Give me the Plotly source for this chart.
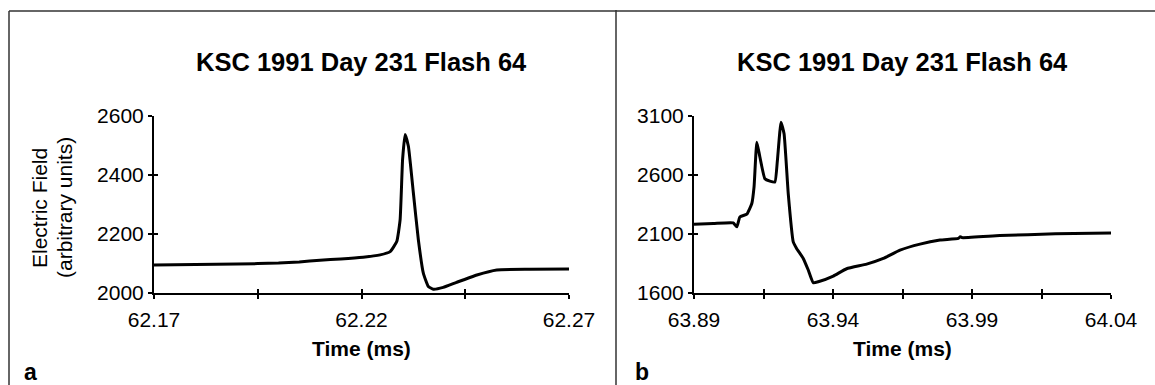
import plotly.graph_objects as go

# ---------------- data ----------------
left_time = [62.17, 62.18, 62.19, 62.20, 62.205, 62.21, 62.215, 62.2204, 62.2245, 62.2269,
             62.2285, 62.2293, 62.2299, 62.2305, 62.2313, 62.2325, 62.2337, 62.2349, 62.2361,
             62.2373, 62.2397, 62.2429, 62.2478, 62.2526, 62.2606, 62.27]
left_field = [2095, 2096, 2098, 2101, 2105, 2111, 2115, 2121, 2129, 2140,
              2174, 2247, 2451, 2536, 2496, 2338, 2180, 2067, 2022,
              2013, 2019, 2036, 2061, 2078, 2080, 2081]

right_time = [63.89, 63.897, 63.9041, 63.9054, 63.9065, 63.909, 63.9108, 63.9116, 63.9126,
              63.9137, 63.9155, 63.9173, 63.9191, 63.92, 63.9213, 63.9224, 63.9239, 63.9257,
              63.9269, 63.9293, 63.9311, 63.9329, 63.9347, 63.9401, 63.9449, 63.9521, 63.9581,
              63.9641, 63.9713, 63.9785, 63.9851, 63.9858, 63.9865, 64.0, 64.02, 64.04]
right_field = [2181, 2187, 2192, 2159, 2243, 2266, 2356, 2496, 2875,
               2749, 2566, 2546, 2538, 2721, 3044, 2946, 2440, 2032,
               1977, 1892, 1794, 1687, 1695, 1743, 1805, 1844, 1892,
               1962, 2013, 2047, 2061, 2075, 2068, 2085, 2100, 2108]

left_xticks = [62.17, 62.195, 62.22, 62.245, 62.27]
left_xticktext = ["62.17", "", "62.22", "", "62.27"]
left_yticks = [2000, 2200, 2400, 2600]
right_xticks = [63.89, 63.915, 63.94, 63.965, 63.99, 64.015, 64.04]
right_xticktext = ["63.89", "", "63.94", "", "63.99", "", "64.04"]
right_yticks = [1600, 2100, 2600, 3100]

title_text = "KSC 1991 Day 231 Flash 64"
xlabel = "Time (ms)"
ylabel_lines = ["Electric Field", "(arbitrary units)"]
panel_labels = ["a", "b"]

# ---------------- layout helpers ----------------
W, H = 1155, 385
def fx(x):
    return x / W
def fy(y):
    return 1 - y / H

FONT = "Arial, Liberation Sans, sans-serif"
LINE = dict(color="black", width=3, shape="spline", smoothing=0.4)

fig = go.Figure()
fig.add_trace(go.Scatter(x=left_time, y=left_field, mode="lines", line=LINE,
                         xaxis="x", yaxis="y", showlegend=False, hoverinfo="skip"))
fig.add_trace(go.Scatter(x=right_time, y=right_field, mode="lines", line=LINE,
                         xaxis="x2", yaxis="y2", showlegend=False, hoverinfo="skip"))
# empty traces to host the inner-tick overlay axes
for xa, ya in (("x3", "y3"), ("x4", "y4")):
    fig.add_trace(go.Scatter(x=[], y=[], xaxis=xa, yaxis=ya, showlegend=False))

ydom = [fy(293), fy(115.5)]
left_xdom = [fx(154), fx(569)]
right_xdom = [fx(694), fx(1111)]

tickfont = dict(family=FONT, size=21, color="black")
base = dict(showgrid=False, zeroline=False, showline=True, linecolor="black", linewidth=2,
            ticks="outside", ticklen=4, tickwidth=2, tickcolor="black", tickfont=tickfont,
            automargin=False)
inner = dict(showgrid=False, zeroline=False, showline=False, ticks="inside", ticklen=4,
             tickwidth=2, tickcolor="black", showticklabels=False, automargin=False)

fig.update_layout(
    width=W, height=H, margin=dict(l=0, r=0, t=0, b=0, autoexpand=False),
    paper_bgcolor="white", plot_bgcolor="white", showlegend=False,
    xaxis=dict(domain=left_xdom, range=[62.17, 62.27], anchor="y", ticklabelstandoff=3,
               tickvals=left_xticks, ticktext=left_xticktext, **base),
    yaxis=dict(domain=ydom, range=[2000, 2600], anchor="x",
               tickvals=left_yticks, **base),
    xaxis2=dict(domain=right_xdom, range=[63.89, 64.04], anchor="y2", ticklabelstandoff=3,
                tickvals=right_xticks, ticktext=right_xticktext, **base),
    yaxis2=dict(domain=ydom, range=[1600, 3100], anchor="x2",
                tickvals=right_yticks, **base),
    xaxis3=dict(overlaying="x", matches="x", anchor="y", tickvals=left_xticks, **inner),
    yaxis3=dict(overlaying="y", matches="y", anchor="x", tickvals=left_yticks, **inner),
    xaxis4=dict(overlaying="x2", matches="x2", anchor="y2", tickvals=right_xticks, **inner),
    yaxis4=dict(overlaying="y2", matches="y2", anchor="x2", tickvals=right_yticks, **inner),
)

ann = []
for cx in ((154 + 569) / 2, (694 + 1111) / 2):
    ann.append(dict(x=fx(cx), y=fy(62), text="<b>%s</b>" % title_text, showarrow=False,
                    xref="paper", yref="paper", xanchor="center", yanchor="middle",
                    font=dict(family=FONT, size=25.5, color="black")))
    ann.append(dict(x=fx(cx), y=fy(348), text="<b>%s</b>" % xlabel, showarrow=False,
                    xref="paper", yref="paper", xanchor="center", yanchor="middle",
                    font=dict(family=FONT, size=21, color="black")))
for lx, txt in zip((40, 65), ylabel_lines):
    ann.append(dict(x=fx(lx), y=fy(208), text=txt, showarrow=False, textangle=-90,
                    xref="paper", yref="paper", xanchor="center", yanchor="middle",
                    font=dict(family=FONT, size=21, color="black")))
for lx, txt in zip((30, 642), panel_labels):
    ann.append(dict(x=fx(lx), y=fy(372), text="<b>%s</b>" % txt, showarrow=False,
                    xref="paper", yref="paper", xanchor="center", yanchor="middle",
                    font=dict(family=FONT, size=23, color="black")))
fig.update_layout(annotations=ann)

# panel frame lines
frame = dict(color="#333333", width=1.5)
shapes = [
    dict(type="line", xref="paper", yref="paper", x0=fx(9), x1=1, y0=fy(11), y1=fy(11), line=frame),
    dict(type="line", xref="paper", yref="paper", x0=fx(9), x1=fx(9), y0=fy(11), y1=0, line=frame),
    dict(type="line", xref="paper", yref="paper", x0=fx(616), x1=fx(616), y0=fy(10), y1=0, line=frame),
]
fig.update_layout(shapes=shapes)

fig.write_html("out.html")
